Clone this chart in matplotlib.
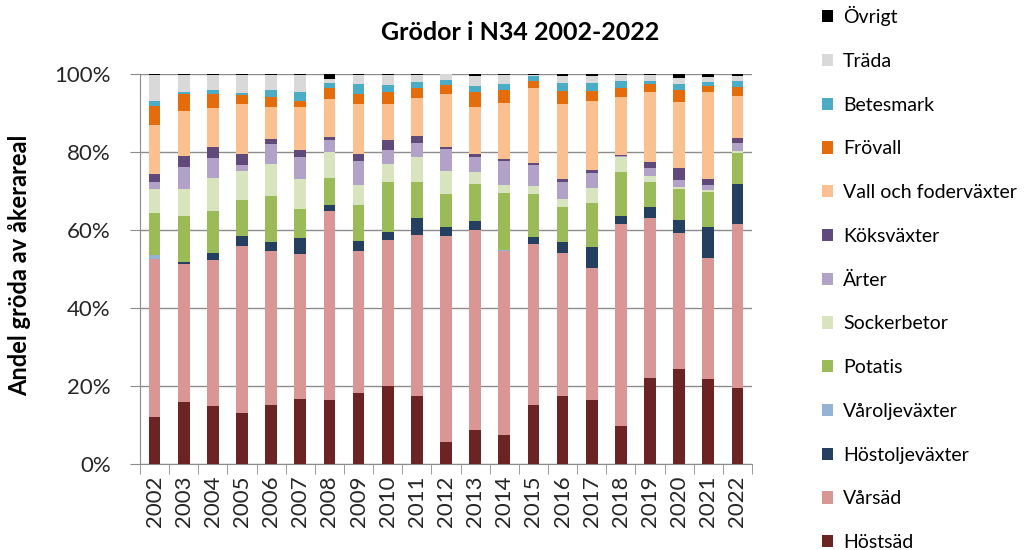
import matplotlib
matplotlib.use("Agg")
import matplotlib.pyplot as plt
from matplotlib.ticker import PercentFormatter
import numpy as np

plt.rcParams['font.family'] = ['Lato', 'DejaVu Sans']

years = [str(y) for y in range(2002, 2023)]

# andel (%) per gröda och år, nerifrån och upp i stapeln
hostsad = [12.0, 15.9, 14.8, 13.2, 15.2, 16.7, 16.5, 18.2, 20.1, 17.5, 5.6,
           8.6, 7.5, 15.2, 17.5, 16.5, 9.8, 22.0, 24.3, 21.8, 19.5]
varsad = [40.5, 35.4, 37.4, 42.8, 39.3, 37.1, 48.5, 36.5, 37.4, 41.3, 52.9,
          51.3, 47.0, 41.2, 36.6, 33.7, 51.7, 41.0, 34.9, 31.1, 42.0]
hostolje = [0.0, 0.6, 1.9, 2.5, 2.5, 4.1, 1.4, 2.6, 1.9, 4.2, 2.2,
            2.3, 0.0, 1.9, 2.7, 5.4, 2.0, 3.0, 3.4, 7.8, 10.3]
varolje = [1.1, 0.0, 0.0, 0.0, 0.0, 0.0, 0.0, 0.0, 0.0, 0.0, 0.0,
           0.0, 0.5, 0.0, 0.0, 0.0, 0.0, 0.0, 0.0, 0.0, 0.0]
potatis = [10.7, 11.8, 10.9, 9.2, 11.8, 7.5, 6.9, 9.1, 12.8, 9.4, 8.5,
           9.6, 14.6, 10.9, 9.0, 11.3, 11.5, 6.2, 7.9, 9.0, 7.9]
sockerbetor = [6.2, 6.8, 8.4, 7.4, 8.1, 7.7, 6.8, 5.2, 4.7, 6.4, 5.9,
               3.2, 2.0, 2.1, 2.1, 3.8, 3.8, 1.7, 0.6, 0.6, 0.5]
arter = [1.9, 5.6, 5.0, 1.6, 5.1, 5.7, 3.0, 6.1, 3.5, 3.6, 5.6,
         3.8, 6.1, 5.4, 4.3, 3.9, 0.2, 1.9, 1.6, 1.3, 2.0]
koksvaxter = [1.9, 3.0, 2.8, 2.7, 1.3, 1.6, 0.7, 1.8, 2.7, 1.8, 0.5,
              0.7, 0.4, 0.4, 0.9, 0.8, 0.2, 1.6, 3.1, 1.4, 1.3]
vall = [12.6, 11.5, 10.0, 12.9, 8.3, 11.2, 9.7, 12.7, 9.1, 9.7, 13.8,
        12.1, 14.4, 19.4, 19.2, 17.8, 14.8, 18.1, 16.9, 22.5, 10.9]
frovall = [4.9, 4.2, 3.6, 2.3, 2.4, 1.5, 3.0, 2.8, 3.1, 2.6, 2.2,
           3.7, 3.4, 1.7, 3.4, 2.5, 2.3, 1.9, 3.2, 1.3, 2.2]
betesmark = [1.4, 0.6, 1.1, 0.4, 1.9, 2.4, 1.1, 2.4, 1.9, 1.5, 1.2,
             1.7, 1.5, 1.2, 1.9, 1.9, 2.0, 0.9, 1.5, 1.2, 1.7]
trada = [6.5, 4.4, 3.8, 4.7, 3.8, 4.2, 1.1, 2.3, 2.5, 1.7, 1.5,
         2.5, 2.3, 0.3, 1.9, 1.9, 1.4, 1.4, 1.7, 1.3, 1.2]
ovrigt = [0.3, 0.2, 0.3, 0.3, 0.3, 0.3, 1.3, 0.3, 0.3, 0.3, 0.1,
          0.5, 0.3, 0.3, 0.5, 0.5, 0.3, 0.3, 0.9, 0.7, 0.5]

series = [
    ("Höstsäd", hostsad, "#6b2323"),
    ("Vårsäd", varsad, "#d99694"),
    ("Höstoljeväxter", hostolje, "#243f60"),
    ("Våroljeväxter", varolje, "#95b3d7"),
    ("Potatis", potatis, "#9bbb59"),
    ("Sockerbetor", sockerbetor, "#d7e4bd"),
    ("Ärter", arter, "#b3a2c7"),
    ("Köksväxter", koksvaxter, "#604a7b"),
    ("Vall och foderväxter", vall, "#fac090"),
    ("Frövall", frovall, "#e46c0a"),
    ("Betesmark", betesmark, "#4bacc6"),
    ("Träda", trada, "#d9d9d9"),
    ("Övrigt", ovrigt, "#000000"),
]

fig = plt.figure(figsize=(10.28, 5.5), dpi=100)
ax = fig.add_axes([140 / 1028, 1 - 464 / 550, 612 / 1028, 390 / 550])

x = np.arange(len(years))
bottom = np.zeros(len(years))
handles = []
for name, vals, col in series:
    b = ax.bar(x, vals, 0.4, bottom=bottom, color=col, label=name, zorder=3)
    handles.append(b)
    bottom += np.array(vals)

ax.set_xlim(-0.5, len(years) - 0.5)
ax.set_ylim(0, 100)
ax.set_yticks([0, 20, 40, 60, 80, 100])
ax.yaxis.set_major_formatter(PercentFormatter(decimals=0))
ax.grid(axis="y", color="#8c8c8c", linewidth=1, zorder=0)

ax.set_xticks(x)
ax.set_xticklabels(years, rotation=90)
ax.set_xticks(np.arange(-0.5, len(years)), minor=True)
ax.tick_params(axis="x", which="major", length=0, pad=8, labelsize=16)
ax.tick_params(axis="x", which="minor", length=7, color="#8c8c8c")
ax.tick_params(axis="y", length=7, color="#8c8c8c", labelsize=16, pad=14,
               labelcolor="#262626")
ax.tick_params(axis="x", labelcolor="#262626")

for s in ["top", "right"]:
    ax.spines[s].set_visible(False)
for s in ["left", "bottom"]:
    ax.spines[s].set_color("#8c8c8c")

ax.set_ylabel("Andel gröda av åkerareal", fontsize=17, fontweight="bold")
ax.yaxis.set_label_coords(-0.178, 0.51)
fig.text(520 / 1028, 1 - 32 / 550, "Grödor i N34 2002-2022", fontsize=18,
         fontweight="bold", ha="center", va="center")

fig.legend(handles[::-1], [s[0] for s in series][::-1], loc="upper left",
           bbox_to_anchor=(804 / 1028, 1.021), frameon=False, fontsize=14,
           labelspacing=1.375, handlelength=0.6, handleheight=0.6,
           handletextpad=0.5)

fig.savefig("out.png", dpi=100)
